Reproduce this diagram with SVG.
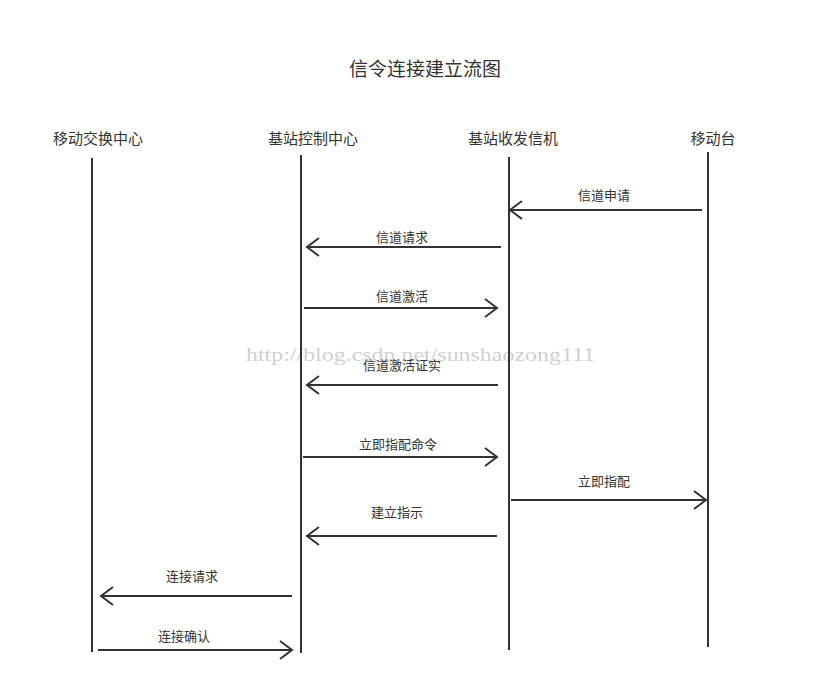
<svg xmlns="http://www.w3.org/2000/svg" width="820" height="689" viewBox="0 0 820 689">
<style>
.t{font-family:"Noto Sans CJK SC","Noto Sans",sans-serif;fill:#333}
.title{font-size:19px;text-anchor:middle}
.hd{font-size:15px;text-anchor:middle}
.lb{font-size:13px;text-anchor:middle}
.life{stroke:#333;stroke-width:2;fill:none}
.msg{stroke:#333;stroke-width:2;fill:none}
.wm{font-family:"Liberation Serif",serif;font-size:18px;fill:#d0d0d0}
</style>
<defs>
<marker id="ah" viewBox="-14 -10 16 20" markerWidth="16" markerHeight="20" refX="0" refY="0" orient="auto" markerUnits="userSpaceOnUse">
<path d="M-12,-9 L0,0 L-12,9" fill="none" stroke="#333" stroke-width="2"/>
</marker>
</defs>
<rect width="820" height="689" fill="#fff"/>
<text class="wm" x="246" y="361" textLength="349" lengthAdjust="spacingAndGlyphs">http://blog.csdn.net/sunshaozong111</text>
<text class="t title" x="425" y="76">信令连接建立流图</text>
<g id="msc">
<text class="t hd" x="98" y="144">移动交换中心</text>
<line class="life" x1="92" y1="158" x2="92" y2="652"/>
</g>
<g id="bsc">
<text class="t hd" x="313" y="144">基站控制中心</text>
<line class="life" x1="301" y1="155" x2="301" y2="653"/>
</g>
<g id="bts">
<text class="t hd" x="513" y="144">基站收发信机</text>
<line class="life" x1="509" y1="157" x2="509" y2="650"/>
</g>
<g id="ms">
<text class="t hd" x="713" y="144">移动台</text>
<line class="life" x1="708" y1="152" x2="708" y2="647"/>
</g>
<g id="connectors">
<line class="msg" x1="702" y1="210" x2="510" y2="210" marker-end="url(#ah)"/>
<text class="t lb" x="604" y="200">信道申请</text>
<line class="msg" x1="501" y1="247" x2="307" y2="247" marker-end="url(#ah)"/>
<text class="t lb" x="402" y="242">信道请求</text>
<line class="msg" x1="304" y1="308" x2="497" y2="308" marker-end="url(#ah)"/>
<text class="t lb" x="402" y="301">信道激活</text>
<line class="msg" x1="498" y1="385" x2="307" y2="385" marker-end="url(#ah)"/>
<text class="t lb" x="402" y="370">信道激活证实</text>
<line class="msg" x1="303" y1="457" x2="497" y2="457" marker-end="url(#ah)"/>
<text class="t lb" x="398" y="449">立即指配命令</text>
<line class="msg" x1="511" y1="500" x2="706" y2="500" marker-end="url(#ah)"/>
<text class="t lb" x="604" y="486">立即指配</text>
<line class="msg" x1="497" y1="536" x2="307" y2="536" marker-end="url(#ah)"/>
<text class="t lb" x="397" y="517">建立指示</text>
<line class="msg" x1="292" y1="596" x2="101" y2="596" marker-end="url(#ah)"/>
<text class="t lb" x="192" y="581">连接请求</text>
<line class="msg" x1="98" y1="650" x2="292" y2="650" marker-end="url(#ah)"/>
<text class="t lb" x="184" y="641">连接确认</text>
</g>
</svg>
